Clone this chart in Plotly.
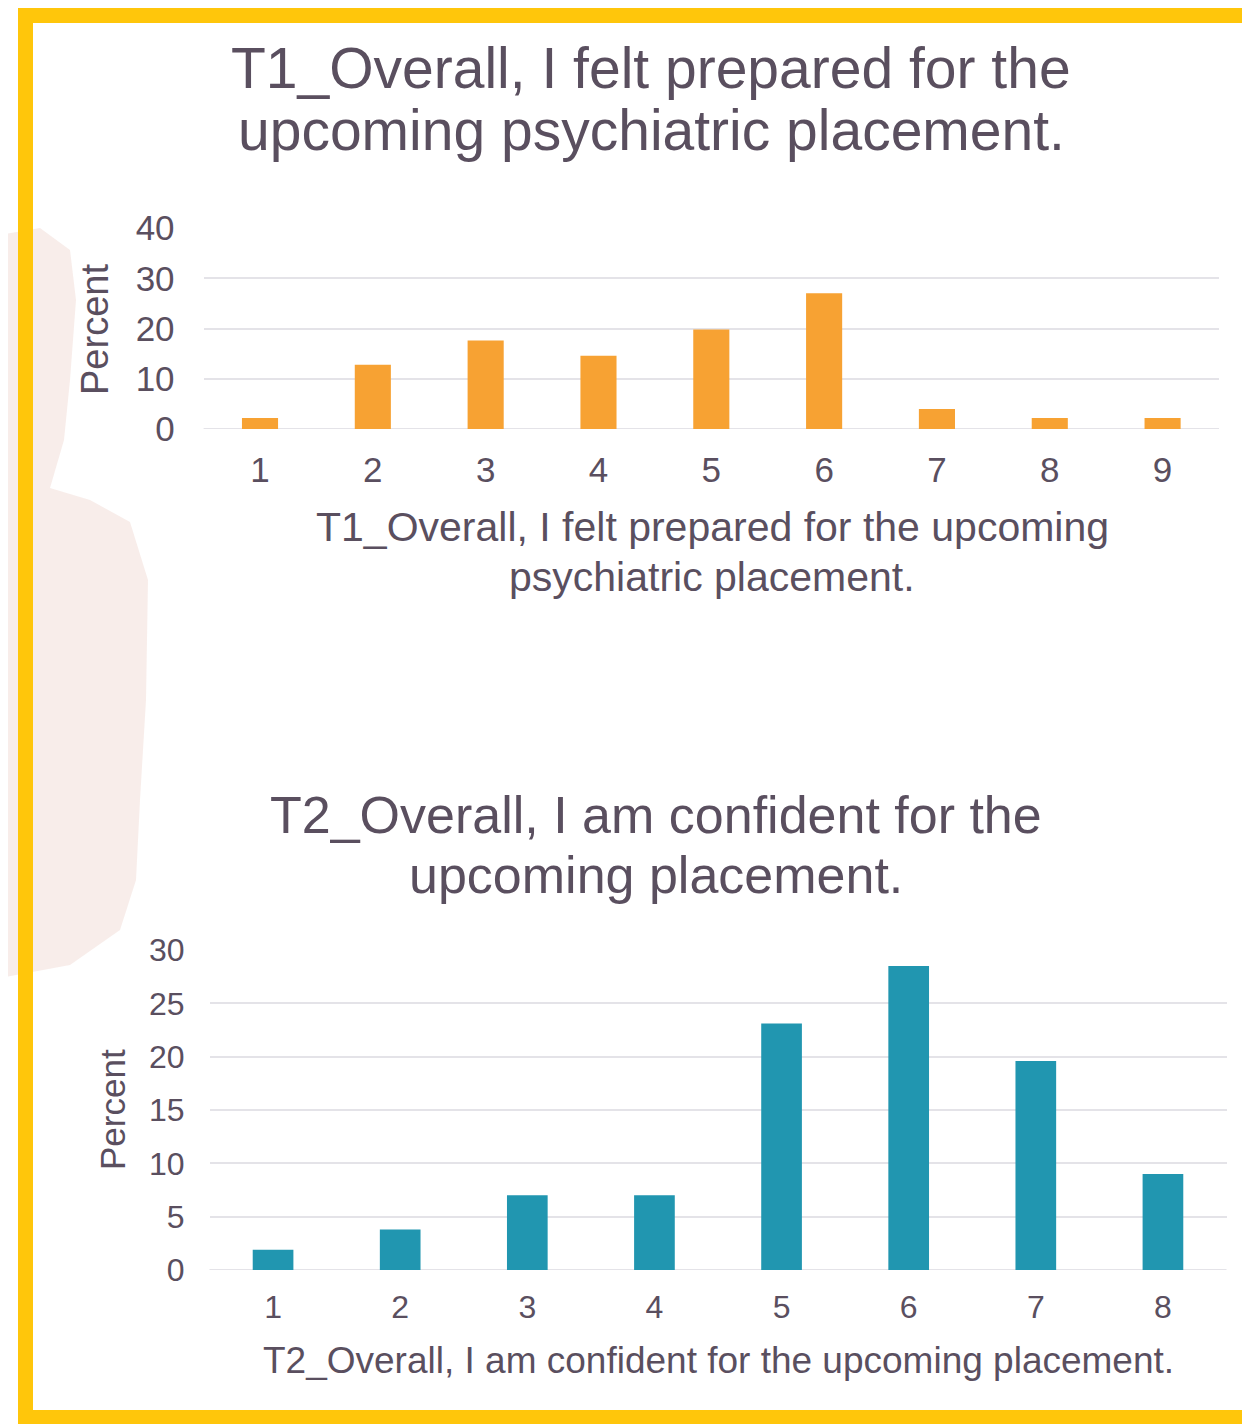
import plotly.graph_objects as go

# ---- data ----
t1_categories = ["1", "2", "3", "4", "5", "6", "7", "8", "9"]
t1_percent = [2.2, 12.8, 17.6, 14.6, 19.8, 27.0, 4.0, 2.2, 2.2]

t2_categories = ["1", "2", "3", "4", "5", "6", "7", "8"]
t2_percent = [1.9, 3.8, 7.0, 7.0, 23.1, 28.5, 19.6, 9.0]

t1_title_lines = ["T1_Overall, I felt prepared for the", "upcoming psychiatric placement."]
t1_xtitle_lines = ["T1_Overall, I felt prepared for the upcoming", "psychiatric placement."]
t2_title_lines = ["T2_Overall, I am confident for the", "upcoming placement."]
t2_xtitle_lines = ["T2_Overall, I am confident for the upcoming placement."]
y_title = "Percent"

OFF = 8  # page body margin
W, H = 1250 - OFF, 1424 - OFF
TXT = "#5a4f5f"
GRID = "#e4e3e8"
FONT = "Liberation Sans, Arial, sans-serif"


def px(x):
    return (x - OFF) / W


def py(y):
    return 1 - (y - OFF) / H


fig = go.Figure()
fig.add_trace(go.Bar(x=t1_categories, y=t1_percent, marker=dict(color="#f7a233", line=dict(width=0)),
                     xaxis="x", yaxis="y", showlegend=False))
fig.add_trace(go.Bar(x=t2_categories, y=t2_percent, marker=dict(color="#2196b0", line=dict(width=0)),
                     xaxis="x2", yaxis="y2", showlegend=False))

axis_common = dict(showline=False, zeroline=False, ticks="", color=TXT, automargin=False)

fig.update_layout(
    width=W, height=H,
    margin=dict(l=0, r=0, t=0, b=0, pad=0, autoexpand=False),
    paper_bgcolor="white", plot_bgcolor="rgba(0,0,0,0)",
    font=dict(family=FONT, color=TXT),
    bargap=0.68,
    xaxis=dict(domain=[px(203.6), px(1219)], anchor="y", showgrid=False,
               tickfont=dict(size=35, color=TXT), ticklabelstandoff=17, **axis_common),
    yaxis=dict(domain=[py(429), py(228)], anchor="x", range=[0, 40], dtick=10,
               showgrid=True, gridcolor=GRID, gridwidth=2,
               tickfont=dict(size=35, color=TXT), ticklabelstandoff=28, **axis_common),
    xaxis2=dict(domain=[px(209.5), px(1226.5)], anchor="y2", showgrid=False,
                tickfont=dict(size=32, color=TXT), ticklabelstandoff=15, **axis_common),
    yaxis2=dict(domain=[py(1270), py(950)], anchor="x2", range=[0, 30], dtick=5,
                showgrid=True, gridcolor=GRID, gridwidth=2,
                tickfont=dict(size=32, color=TXT), ticklabelstandoff=24, **axis_common),
)

# horizontal 0 baseline for both charts
for ya, xa in (("y", "x"), ("y2", "x2")):
    fig.add_shape(type="line", xref=f"{xa} domain", yref=ya, x0=0, x1=1, y0=0, y1=0,
                  line=dict(color=GRID, width=2), layer="below")

# pink watercolor wash on the left
pts = [(0, 235), (40, 228), (70, 250), (76, 300), (70, 380), (64, 440), (50, 488), (90, 500),
       (130, 522), (148, 580), (146, 700), (140, 800), (136, 880), (120, 930), (70, 965), (0, 978)]
path = "M " + " L ".join(f"{px(x):.5f},{py(y):.5f}" for x, y in pts) + " Z"
fig.add_shape(type="path", xref="paper", yref="paper", path=path,
              fillcolor="#f4e1dc", opacity=0.6, line=dict(width=0), layer="below")

# yellow frame (right side cut off)
fig.add_shape(type="rect", xref="paper", yref="paper", x0=px(25.5), x1=px(1265), y0=py(15.5), y1=py(1417.5),
              line=dict(color="#ffc60b", width=15), fillcolor="rgba(0,0,0,0)", layer="above")

ann = []


def add_text(text, x, y, size, angle=0):
    ann.append(dict(text=text, x=px(x), y=py(y), xref="paper", yref="paper", showarrow=False,
                    xanchor="center", yanchor="middle", textangle=angle,
                    font=dict(size=size, color=TXT)))


add_text(t1_title_lines[0], 651, 68, 57)
add_text(t1_title_lines[1], 651, 130, 57)
add_text(t1_xtitle_lines[0], 712, 527, 41)
add_text(t1_xtitle_lines[1], 712, 577, 41)
add_text(y_title, 95, 330, 38, -90)
add_text(t2_title_lines[0], 656, 815, 52)
add_text(t2_title_lines[1], 656, 875, 52)
add_text(t2_xtitle_lines[0], 718, 1360, 37)
add_text(y_title, 112, 1110, 35, -90)
fig.update_layout(annotations=ann)

fig.write_html("out.html")
